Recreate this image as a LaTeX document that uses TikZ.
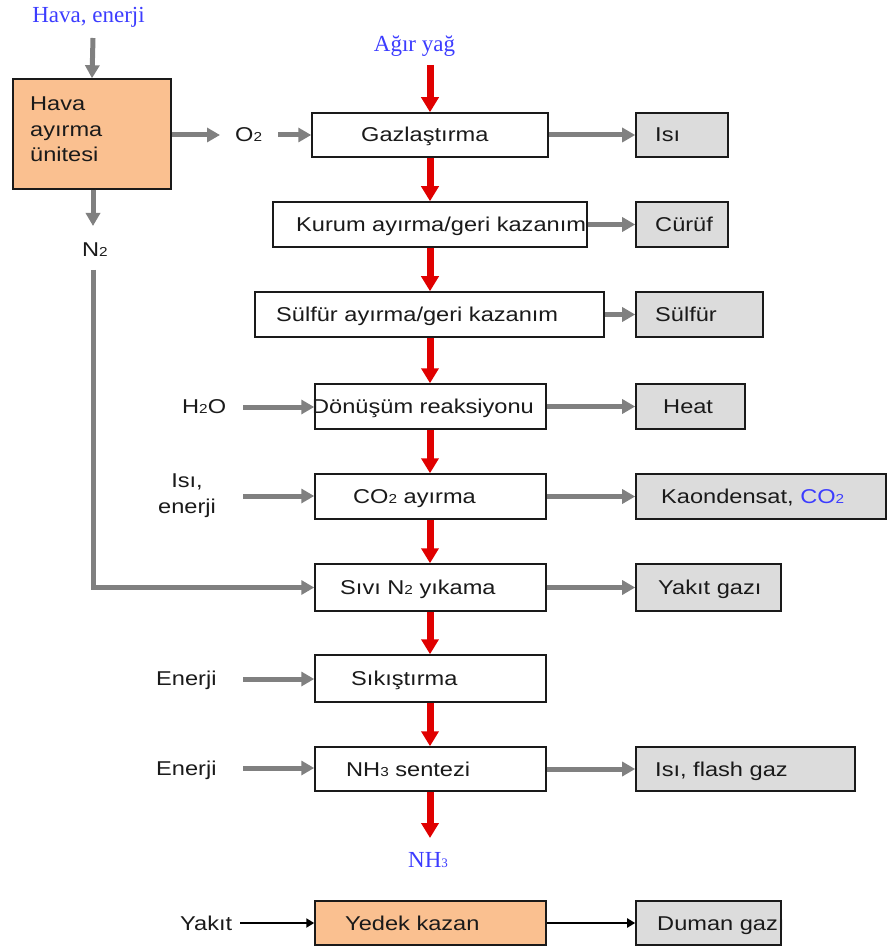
\documentclass[tikz,border=0pt]{standalone}
\usepackage{fontspec}
\newfontfamily\sansx{Liberation Sans}[FakeStretch=1.18]
\newfontfamily\serifx{Liberation Serif}
\usetikzlibrary{arrows.meta}
\definecolor{peach}{HTML}{FAC090}
\definecolor{outgray}{HTML}{DCDCDC}
\definecolor{flowgray}{HTML}{808080}
\definecolor{flowred}{HTML}{E00000}
\definecolor{labelblue}{HTML}{3C3CFF}
\definecolor{ink}{HTML}{1A1A1A}
% small index digit sitting on the baseline (O2, N2, CO2, NH3 ...)
\newcommand\chemsub[1]{{\fontsize{13}{13}\selectfont #1}}

\begin{document}
\begin{tikzpicture}[x=1pt,y=-1pt,
  txt/.style={font=\sansx\fontsize{20}{25.5}\selectfont, text=ink, inner sep=0pt},
  bluelabel/.style={font=\serifx\fontsize{23}{25}\selectfont, text=labelblue, inner sep=0pt},
  procbox/.style={draw=ink, line width=1.5pt, fill=white, inner sep=0pt},
  outbox/.style={draw=ink, line width=1.6pt, fill=outgray, inner sep=0pt},
  unitbox/.style={draw=ink, line width=1.5pt, fill=peach, inner sep=0pt},
  grayflow/.style={draw=flowgray, line width=5pt, -{Triangle[length=13pt,width=14pt]}},
  redflow/.style={draw=flowred, line width=7pt, -{Triangle[length=15pt,width=17pt]}},
  blackflow/.style={draw=black, line width=2pt, -{Triangle[length=8pt,width=9pt]}},
]
\useasboundingbox (0,0) rectangle (887,949);

% ---------- boxes ----------
\node[unitbox, minimum width=158pt, minimum height=110pt] (hava) at (92,134) {};
\node[procbox, minimum width=236pt, minimum height=44pt] (gaz)    at (430,135)   {};
\node[procbox, minimum width=314pt, minimum height=45pt] (kurum)  at (430,224.5) {};
\node[procbox, minimum width=349pt, minimum height=45pt] (sulf)   at (429.5,314.5) {};
\node[procbox, minimum width=231pt, minimum height=45pt] (donus)  at (430.5,406.5) {};
\node[procbox, minimum width=231pt, minimum height=45pt] (coay)   at (430.5,496.5) {};
\node[procbox, minimum width=231pt, minimum height=47pt] (sivi)   at (430.5,587.5) {};
\node[procbox, minimum width=231pt, minimum height=47pt] (sikis)  at (430.5,678.5) {};
\node[procbox, minimum width=231pt, minimum height=44pt] (sentez) at (430.5,769)   {};
\node[unitbox, minimum width=231pt, minimum height=44pt] (yedek)  at (430.5,923)   {};

\node[outbox, minimum width=92pt,  minimum height=44pt] (isi)    at (682,135)     {};
\node[outbox, minimum width=92pt,  minimum height=45pt] (curuf)  at (682,224.5)   {};
\node[outbox, minimum width=127pt, minimum height=45pt] (sulfout) at (699.5,314.5) {};
\node[outbox, minimum width=109pt, minimum height=45pt] (heat)   at (690.5,406.5) {};
\node[outbox, minimum width=250pt, minimum height=45pt] (kond)   at (761,496.5)   {};
\node[outbox, minimum width=145pt, minimum height=47pt] (yakgaz) at (708.5,587.5) {};
\node[outbox, minimum width=219pt, minimum height=44pt] (flash)  at (745.5,769)   {};
\node[outbox, minimum width=145pt, minimum height=44pt] (duman)  at (708.5,923)   {};

% ---------- texts inside boxes ----------
% (the base anchor of a multi-line node sits on its last line)
\node[txt, anchor=base west, align=left] (thava) at (30,162) {Hava\\ayırma\\ünitesi};
\node[txt, anchor=base west] (tgaz)    at (361,142)   {Gazlaştırma};
\node[txt, anchor=base west] (tkurum)  at (296,231.5) {Kurum ayırma/geri kazanım};
\node[txt, anchor=base west] (tsulf)   at (276,321.5) {Sülfür ayırma/geri kazanım};
\node[txt, anchor=base west] (tdonus)  at (312,413.5) {Dönüşüm reaksiyonu};
\node[txt, anchor=base west] (tcoay)   at (353,503.5) {CO\chemsub{2} ayırma};
\node[txt, anchor=base west] (tsivi)   at (340,594.5) {Sıvı N\chemsub{2} yıkama};
\node[txt, anchor=base west] (tsikis)  at (351,685.5) {Sıkıştırma};
\node[txt, anchor=base west] (tsentez) at (346,776)   {NH\chemsub{3} sentezi};
\node[txt, anchor=base west] (tyedek)  at (345,930)   {Yedek kazan};

\node[txt, anchor=base west] (tisi)    at (655,142)   {Isı};
\node[txt, anchor=base west] (tcuruf)  at (655,231.5) {Cürüf};
\node[txt, anchor=base west] (tsulfout) at (655,321.5) {Sülfür};
\node[txt, anchor=base west] (theat)   at (663,413.5) {Heat};
\node[txt, anchor=base west] (tkond)   at (661,503.5) {Kaondensat, \textcolor{labelblue}{CO\chemsub{2}}};
\node[txt, anchor=base west] (tyakgaz) at (658,594.5) {Yakıt gazı};
\node[txt, anchor=base west] (tflash)  at (655,776)   {Isı, flash gaz};
\node[txt, anchor=base west] (tduman)  at (657,930)   {Duman gazı};

% ---------- free labels ----------
\node[bluelabel, anchor=base] (lhava) at (88.5,23) {Hava, enerji};
\node[bluelabel, anchor=base] (lagir) at (414.5,52) {Ağır yağ};
\node[bluelabel, anchor=base] (lnh)   at (428,867) {NH\chemsub{3}};
\node[txt, anchor=base west] (lo)   at (235,142) {O\chemsub{2}};
\node[txt, anchor=base west] (ln)   at (82,257)  {N\chemsub{2}};
\node[txt, anchor=base west] (lh2o) at (182,413) {H\chemsub{2}O};
\node[txt, anchor=base, align=center] (lisi) at (187,513) {Isı,\\enerji};
\node[txt, anchor=base west] (len1) at (156,685) {Enerji};
\node[txt, anchor=base west] (len2) at (156,775) {Enerji};
\node[txt, anchor=base west] (lyak) at (180,930) {Yakıt};

% ---------- free ends of the feed arrows ----------
\coordinate (chava) at (93,38);
\coordinate (cagir) at (430,65);
\coordinate (co2a) at (220,135);
\coordinate (co2b) at (278,135);
\coordinate (cn2a) at (93,226);
\coordinate (cn2b) at (93,270);
\coordinate (ch2o) at (243,407);
\coordinate (cisi) at (243,496);
\coordinate (cen1) at (243,679);
\coordinate (cen2) at (243,768);
\coordinate (cyak) at (240,923);
\coordinate (cnh)  at (430,838);

% ---------- air separation unit ----------
\draw[grayflow] (chava) -- (hava.north);
\draw[grayflow] (hava.east |- co2a) -- (co2a);
\draw[grayflow] (co2b) -- (gaz.west |- co2b);
\draw[grayflow] (hava.south -| chava) -- (cn2a);
\draw[grayflow] (cn2b) |- (sivi.west);

% ---------- main (red) line ----------
\draw[redflow] (cagir) -- (gaz.north -| cagir);
\draw[redflow] (gaz.south -| cagir) -- (kurum.north -| cagir);
\draw[redflow] (kurum.south -| cagir) -- (sulf.north -| cagir);
\draw[redflow] (sulf.south -| cagir) -- (donus.north -| cagir);
\draw[redflow] (donus.south -| cagir) -- (coay.north -| cagir);
\draw[redflow] (coay.south -| cagir) -- (sivi.north -| cagir);
\draw[redflow] (sivi.south -| cagir) -- (sikis.north -| cagir);
\draw[redflow] (sikis.south -| cagir) -- (sentez.north -| cagir);
\draw[redflow] (sentez.south -| cagir) -- (cnh);

% ---------- side feeds ----------
\draw[grayflow] (ch2o) -- (donus.west |- ch2o);
\draw[grayflow] (cisi) -- (coay.west |- cisi);
\draw[grayflow] (cen1) -- (sikis.west |- cen1);
\draw[grayflow] (cen2) -- (sentez.west |- cen2);
\draw[blackflow] (cyak) -- (yedek.west);

% ---------- outputs ----------
\draw[grayflow] (gaz.east) -- (isi.west);
\draw[grayflow] (kurum.east) -- (curuf.west);
\draw[grayflow] (sulf.east) -- (sulfout.west);
\draw[grayflow] (donus.east) -- (heat.west);
\draw[grayflow] (coay.east) -- (kond.west);
\draw[grayflow] (sivi.east) -- (yakgaz.west);
\draw[grayflow] (sentez.east) -- (flash.west);
\draw[blackflow] (yedek.east) -- (duman.west);
\end{tikzpicture}
\end{document}
